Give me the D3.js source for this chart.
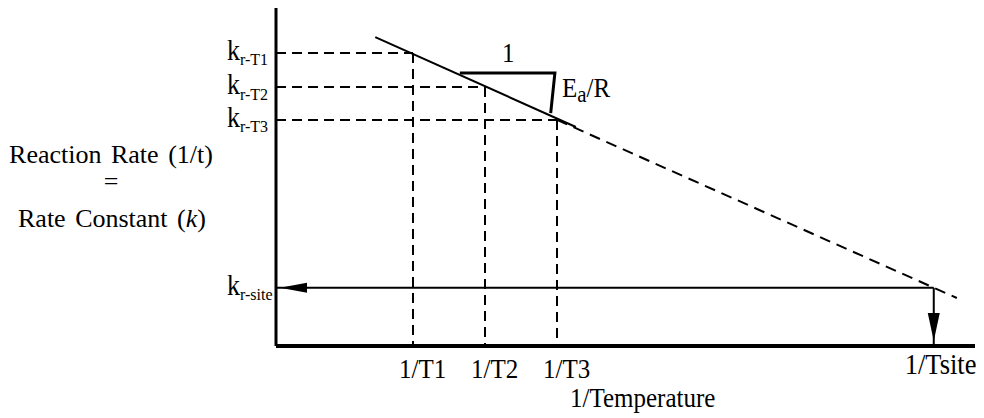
<!DOCTYPE html>
<html>
<head>
<meta charset="utf-8">
<script src="https://cdn.jsdelivr.net/npm/d3@7"></script>
<style>
  html, body { margin: 0; padding: 0; background: #fff; }
  svg { display: block; }
</style>
</head>
<body>
<svg id="chart" width="984" height="418"></svg>
<script>
// Arrhenius plot: rate constant versus reciprocal temperature (arbitrary units)
const tempLabels = ["1/T1", "1/T2", "1/T3"];
const invT = [19.6, 29.9, 40.2];
const rateK = [86.7, 76.6, 66.9];
const rateSubs = ["r-T1", "r-T2", "r-T3"];

const siteLabel = "1/Tsite";
const siteSub = "r-site";
const siteInvT = 94.1;
const siteK = 17.2;

// measured fit (solid) and its extrapolation (dashed)
const fitX = [14.2, 42.9];
const fitY = [91.4, 64.8];
const extX = [40.2, 97.4];
const extY = [66.9, 14.2];

// slope triangle: run of 1, rise of Ea/R
const triX = [26.3, 39.9, 39.3];
const triY = [80.8, 80.8, 68.9];

const yTitle = ["Reaction Rate (1/t)", "=", "Rate Constant ("];
const xTitle = "1/Temperature";

const SERIF = "'Liberation Serif', 'Times New Roman', Times, serif";
const STRETCH = 1.1; // chart labels are drawn slightly tall

const svg = d3.select("#chart").attr("font-family", SERIF);
const x = d3.scaleLinear().domain([0, 100]).range([276, 975]);
const y = d3.scaleLinear().domain([0, 100]).range([346, 8]);
const line = d3.line().x(d => x(d[0])).y(d => y(d[1]));

// dashed guides from each measured point to both axes
const guides = svg.append("g")
  .attr("fill", "none").attr("stroke", "#000")
  .attr("stroke-width", 2).attr("stroke-dasharray", "10,6");
invT.forEach((t, i) => {
  guides.append("path").attr("d", line([[0, rateK[i]], [t, rateK[i]]]));
  guides.append("path").attr("d", line([[t, rateK[i]], [t, 0]]));
});

// extrapolated line
svg.append("path")
  .attr("d", line(d3.zip(extX, extY)))
  .attr("fill", "none").attr("stroke", "#000")
  .attr("stroke-width", 2).attr("stroke-dasharray", "11,7");

// fitted line
svg.append("path")
  .attr("d", line(d3.zip(fitX, fitY)))
  .attr("fill", "none").attr("stroke", "#000").attr("stroke-width", 2);

// slope triangle
svg.append("path")
  .attr("d", line(d3.zip(triX, triY)))
  .attr("fill", "none").attr("stroke", "#000").attr("stroke-width", 3);

svg.append("text").attr("class", "tall")
  .attr("x", x((triX[0] + triX[1]) / 2) + 1).attr("y", y(triY[0]) - 11)
  .attr("text-anchor", "middle").attr("font-size", 25).text("1");

const ea = svg.append("text").attr("class", "tall")
  .attr("x", x(triX[1]) + 7).attr("y", 97).attr("font-size", 25);
ea.append("tspan").text("E");
ea.append("tspan").attr("font-size", 21).attr("dy", 5).text("a");
ea.append("tspan").attr("dy", -5).text("/R");

// site arrows: across to the rate axis, down to the temperature axis
svg.append("path")
  .attr("d", line([[siteInvT, siteK], [0, siteK]]))
  .attr("stroke", "#000").attr("stroke-width", 2);
svg.append("path")
  .attr("d", line([[siteInvT, siteK], [siteInvT, 0]]))
  .attr("stroke", "#000").attr("stroke-width", 2);

const hx = x(0) + 4, hy = y(siteK);
svg.append("path")
  .attr("d", `M${hx},${hy}L${hx + 27},${hy - 5}L${hx + 27},${hy + 5}Z`)
  .attr("fill", "#000");
const vx = x(siteInvT), vy = y(0) - 5;
svg.append("path")
  .attr("d", `M${vx},${vy}L${vx - 6},${vy - 28}L${vx + 6},${vy - 28}Z`)
  .attr("fill", "#000");

// axes
svg.append("path")
  .attr("d", line([[0, 100], [0, 0]]))
  .attr("stroke", "#000").attr("stroke-width", 3);
svg.append("path")
  .attr("d", line([[0, 0], [100, 0]]))
  .attr("stroke", "#000").attr("stroke-width", 4);

// rate-constant labels
function kLabel(sub, kv) {
  const t = svg.append("text").attr("class", "tall")
    .attr("x", 227).attr("y", y(kv) + 7).attr("font-size", 26);
  t.append("tspan").text("k");
  t.append("tspan").attr("font-size", 16).attr("dy", 5).text(sub);
}
rateSubs.forEach((s, i) => kLabel(s, rateK[i]));
kLabel(siteSub, siteK);

// temperature labels
tempLabels.forEach((lab, i) => {
  svg.append("text").attr("class", "tall")
    .attr("x", x(invT[i]) - 14).attr("y", 378)
    .attr("font-size", 25).text(lab);
});
svg.append("text").attr("class", "tall")
  .attr("x", x(siteInvT) - 29).attr("y", 374)
  .attr("font-size", 26.5).text(siteLabel);

svg.append("text").attr("class", "tall")
  .attr("x", 570).attr("y", 407).attr("font-size", 25).text(xTitle);

// rate axis title, three centred lines
const tx = 111;
svg.append("text").attr("x", tx).attr("y", 163)
  .attr("text-anchor", "middle").attr("font-size", 26)
  .attr("word-spacing", 3).text(yTitle[0]);
svg.append("text").attr("x", tx).attr("y", 190)
  .attr("text-anchor", "middle").attr("font-size", 26).text(yTitle[1]);
const rc = svg.append("text").attr("x", tx + 1).attr("y", 227)
  .attr("text-anchor", "middle").attr("font-size", 26).attr("word-spacing", 3);
rc.append("tspan").text(yTitle[2]);
rc.append("tspan").attr("font-style", "italic").text("k");
rc.append("tspan").text(")");

svg.selectAll("text").attr("font-family", SERIF).attr("fill", "#000");

// stretch the chart labels upward about their own baselines
svg.selectAll("text.tall")
  .attr("transform", function () {
    const b = +this.getAttribute("y");
    return `translate(0,${b}) scale(1,${STRETCH}) translate(0,${-b})`;
  });
</script>
</body>
</html>
